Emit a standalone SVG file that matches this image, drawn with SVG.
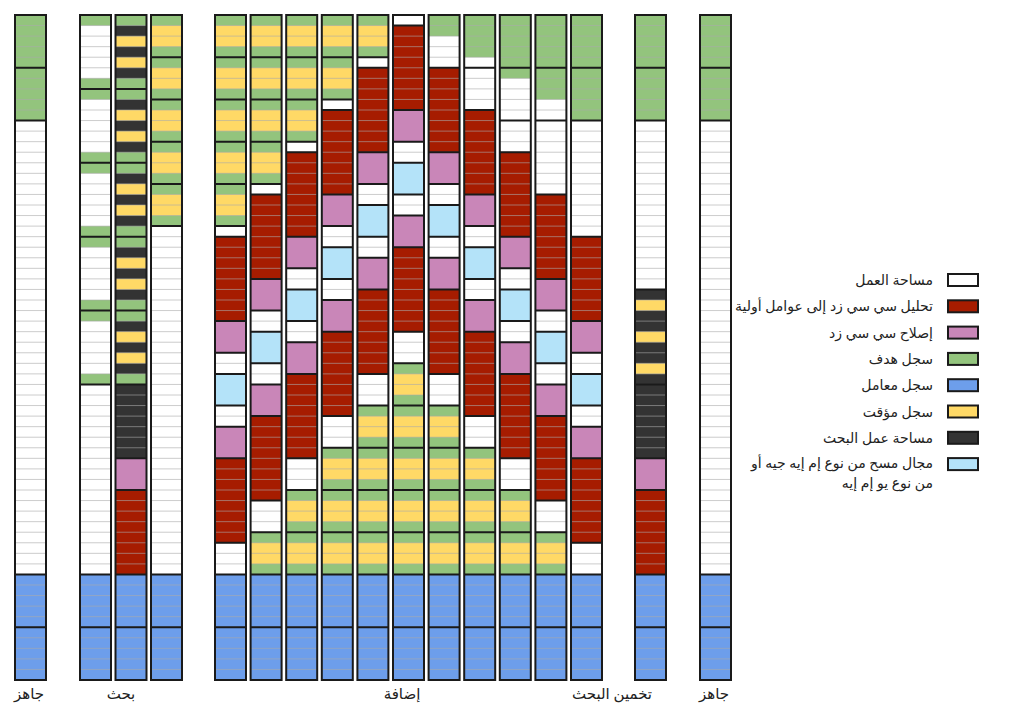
<svg xmlns="http://www.w3.org/2000/svg" xmlns:xlink="http://www.w3.org/1999/xlink" width="1024" height="710" viewBox="0 0 1024 710">
<style>
.w{fill:#fff}.r{fill:#a61c00}.p{fill:#c986b8}.g{fill:#93c47d}.b{fill:#6d9eeb}.y{fill:#ffd966}.d{fill:#333}.l{fill:#b4e3f9}
.o{fill:none;stroke:#1a1a1a;stroke-width:2;vector-effect:non-scaling-stroke}
.gr{fill:none;stroke:#aaa;stroke-opacity:.6;stroke-width:1;vector-effect:non-scaling-stroke}
.lg{stroke:#1a1a1a;stroke-width:2}
text{font-family:"Noto Sans","DejaVu Sans",sans-serif;font-size:14px;fill:#222}
.bt{font-size:15px}
</style>
<defs>
<path id="grid" class="gr" d="M0 1h31M0 2h31M0 3h31M0 4h31M0 5h31M0 6h31M0 7h31M0 8h31M0 9h31M0 10h31M0 11h31M0 12h31M0 13h31M0 14h31M0 15h31M0 16h31M0 17h31M0 18h31M0 19h31M0 20h31M0 21h31M0 22h31M0 23h31M0 24h31M0 25h31M0 26h31M0 27h31M0 28h31M0 29h31M0 30h31M0 31h31M0 32h31M0 33h31M0 34h31M0 35h31M0 36h31M0 37h31M0 38h31M0 39h31M0 40h31M0 41h31M0 42h31M0 43h31M0 44h31M0 45h31M0 46h31M0 47h31M0 48h31M0 49h31M0 50h31M0 51h31M0 52h31M0 53h31M0 54h31M0 55h31M0 56h31M0 57h31M0 58h31M0 59h31M0 60h31M0 61h31M0 62h31"/>
<g id="gyg"><rect class="g" width="31" height="4"/><rect class="y" y="1" width="31" height="2"/></g>
<g id="gwg"><rect class="g" width="31" height="7"/><rect class="w" y="1" width="31" height="5"/></g>
<g id="gdy"><rect class="g" width="31" height="7"/><rect class="d" y="1" width="31" height="5"/><rect class="y" y="2" width="31" height="1"/><rect class="y" y="4" width="31" height="1"/></g>
<rect id="bl" class="b" y="53" width="31" height="10"/>
<rect id="bg" class="w" width="31" height="63"/>
<rect id="ol" class="o" width="31" height="63"/>
</defs>

<g id="col-ready-1" transform="translate(15 15) scale(1 10.5556)">
<use href="#bg"/><rect class="g" width="31" height="10"/><use href="#bl"/><use href="#grid"/>
<use href="#ol"/><path class="o" d="M0 5h31M0 10h31M0 53h31M0 58h31"/>
</g>

<g id="col-search-1" transform="translate(80 15) scale(1 10.5556)">
<use href="#bg"/><use href="#gwg"/><use href="#gwg" y="7"/><use href="#gwg" y="14"/><use href="#gwg" y="21"/><use href="#gwg" y="28"/><use href="#bl"/><use href="#grid"/>
<use href="#ol"/><path class="o" d="M0 7h31M0 14h31M0 21h31M0 28h31M0 35h31M0 53h31M0 58h31"/>
</g>

<g id="col-search-2" transform="translate(115.5 15) scale(1 10.5556)">
<use href="#bg"/><use href="#gdy"/><use href="#gdy" y="7"/><use href="#gdy" y="14"/><use href="#gdy" y="21"/><use href="#gdy" y="28"/>
<rect class="d" y="35" width="31" height="7"/><rect class="r" y="45" width="31" height="8"/><use href="#bl"/><use href="#grid"/>
<rect class="p" y="42" width="31" height="3"/>
<use href="#ol"/><path class="o" d="M0 7h31M0 14h31M0 21h31M0 28h31M0 35h31M0 42h31M0 45h31M0 53h31M0 58h31"/>
</g>

<g id="col-search-3" transform="translate(151 15) scale(1 10.5556)">
<use href="#bg"/><use href="#gyg"/><use href="#gyg" y="4"/><use href="#gyg" y="8"/><use href="#gyg" y="12"/><use href="#gyg" y="16"/><use href="#bl"/><use href="#grid"/>
<use href="#ol"/><path class="o" d="M0 4h31M0 8h31M0 12h31M0 16h31M0 20h31M0 53h31M0 58h31"/>
</g>

<g id="col-add-1" transform="translate(215 15) scale(1 10.5556)">
<use href="#bg"/><use href="#gyg"/><use href="#gyg" y="4"/><use href="#gyg" y="8"/><use href="#gyg" y="12"/><use href="#gyg" y="16"/>
<rect class="r" y="21" width="31" height="8"/><rect class="r" y="42" width="31" height="8"/><use href="#bl"/><use href="#grid"/>
<rect class="p" y="29" width="31" height="3"/><rect class="l" y="34" width="31" height="3"/><rect class="p" y="39" width="31" height="3"/>
<use href="#ol"/><path class="o" d="M0 4h31M0 8h31M0 12h31M0 16h31M0 20h31M0 21h31M0 29h31M0 32h31M0 34h31M0 37h31M0 39h31M0 42h31M0 50h31M0 53h31M0 58h31"/>
</g>

<g id="col-add-2" transform="translate(250.6 15) scale(1 10.5556)">
<use href="#bg"/><use href="#gyg"/><use href="#gyg" y="4"/><use href="#gyg" y="8"/><use href="#gyg" y="12"/>
<rect class="r" y="17" width="31" height="8"/><rect class="r" y="38" width="31" height="8"/><use href="#gyg" y="49"/><use href="#bl"/><use href="#grid"/>
<rect class="p" y="25" width="31" height="3"/><rect class="l" y="30" width="31" height="3"/><rect class="p" y="35" width="31" height="3"/>
<use href="#ol"/><path class="o" d="M0 4h31M0 8h31M0 12h31M0 16h31M0 17h31M0 25h31M0 28h31M0 30h31M0 33h31M0 35h31M0 38h31M0 46h31M0 49h31M0 53h31M0 58h31"/>
</g>

<g id="col-add-3" transform="translate(286.2 15) scale(1 10.5556)">
<use href="#bg"/><use href="#gyg"/><use href="#gyg" y="4"/><use href="#gyg" y="8"/>
<rect class="r" y="13" width="31" height="8"/><rect class="r" y="34" width="31" height="8"/><use href="#gyg" y="45"/><use href="#gyg" y="49"/><use href="#bl"/><use href="#grid"/>
<rect class="p" y="21" width="31" height="3"/><rect class="l" y="26" width="31" height="3"/><rect class="p" y="31" width="31" height="3"/>
<use href="#ol"/><path class="o" d="M0 4h31M0 8h31M0 12h31M0 13h31M0 21h31M0 24h31M0 26h31M0 29h31M0 31h31M0 34h31M0 42h31M0 45h31M0 49h31M0 53h31M0 58h31"/>
</g>

<g id="col-add-4" transform="translate(321.8 15) scale(1 10.5556)">
<use href="#bg"/><use href="#gyg"/><use href="#gyg" y="4"/>
<rect class="r" y="9" width="31" height="8"/><rect class="r" y="30" width="31" height="8"/><use href="#gyg" y="41"/><use href="#gyg" y="45"/><use href="#gyg" y="49"/><use href="#bl"/><use href="#grid"/>
<rect class="p" y="17" width="31" height="3"/><rect class="l" y="22" width="31" height="3"/><rect class="p" y="27" width="31" height="3"/>
<use href="#ol"/><path class="o" d="M0 4h31M0 8h31M0 9h31M0 17h31M0 20h31M0 22h31M0 25h31M0 27h31M0 30h31M0 38h31M0 41h31M0 45h31M0 49h31M0 53h31M0 58h31"/>
</g>

<g id="col-add-5" transform="translate(357.4 15) scale(1 10.5556)">
<use href="#bg"/><use href="#gyg"/>
<rect class="r" y="5" width="31" height="8"/><rect class="r" y="26" width="31" height="8"/><use href="#gyg" y="37"/><use href="#gyg" y="41"/><use href="#gyg" y="45"/><use href="#gyg" y="49"/><use href="#bl"/><use href="#grid"/>
<rect class="p" y="13" width="31" height="3"/><rect class="l" y="18" width="31" height="3"/><rect class="p" y="23" width="31" height="3"/>
<use href="#ol"/><path class="o" d="M0 4h31M0 5h31M0 13h31M0 16h31M0 18h31M0 21h31M0 23h31M0 26h31M0 34h31M0 37h31M0 41h31M0 45h31M0 49h31M0 53h31M0 58h31"/>
</g>

<g id="col-add-6" transform="translate(393 15) scale(1 10.5556)">
<use href="#bg"/>
<rect class="r" y="1" width="31" height="8"/><rect class="r" y="22" width="31" height="8"/><use href="#gyg" y="33"/><use href="#gyg" y="37"/><use href="#gyg" y="41"/><use href="#gyg" y="45"/><use href="#gyg" y="49"/><use href="#bl"/><use href="#grid"/>
<rect class="p" y="9" width="31" height="3"/><rect class="l" y="14" width="31" height="3"/><rect class="p" y="19" width="31" height="3"/>
<use href="#ol"/><path class="o" d="M0 1h31M0 9h31M0 12h31M0 14h31M0 17h31M0 19h31M0 22h31M0 30h31M0 33h31M0 37h31M0 41h31M0 45h31M0 49h31M0 53h31M0 58h31"/>
</g>

<g id="col-add-7" transform="translate(428.6 15) scale(1 10.5556)">
<use href="#bg"/><rect class="g" width="31" height="2"/>
<rect class="r" y="5" width="31" height="8"/><rect class="r" y="26" width="31" height="8"/><use href="#gyg" y="37"/><use href="#gyg" y="41"/><use href="#gyg" y="45"/><use href="#gyg" y="49"/><use href="#bl"/><use href="#grid"/>
<rect class="p" y="13" width="31" height="3"/><rect class="l" y="18" width="31" height="3"/><rect class="p" y="23" width="31" height="3"/>
<use href="#ol"/><path class="o" d="M0 5h31M0 13h31M0 16h31M0 18h31M0 21h31M0 23h31M0 26h31M0 34h31M0 37h31M0 41h31M0 45h31M0 49h31M0 53h31M0 58h31"/>
</g>

<g id="col-add-8" transform="translate(464.2 15) scale(1 10.5556)">
<use href="#bg"/><rect class="g" width="31" height="4"/>
<rect class="r" y="9" width="31" height="8"/><rect class="r" y="30" width="31" height="8"/><use href="#gyg" y="41"/><use href="#gyg" y="45"/><use href="#gyg" y="49"/><use href="#bl"/><use href="#grid"/>
<rect class="p" y="17" width="31" height="3"/><rect class="l" y="22" width="31" height="3"/><rect class="p" y="27" width="31" height="3"/>
<use href="#ol"/><path class="o" d="M0 5h31M0 9h31M0 17h31M0 20h31M0 22h31M0 25h31M0 27h31M0 30h31M0 38h31M0 41h31M0 45h31M0 49h31M0 53h31M0 58h31"/>
</g>

<g id="col-add-9" transform="translate(499.8 15) scale(1 10.5556)">
<use href="#bg"/><rect class="g" width="31" height="6"/>
<rect class="r" y="13" width="31" height="8"/><rect class="r" y="34" width="31" height="8"/><use href="#gyg" y="45"/><use href="#gyg" y="49"/><use href="#bl"/><use href="#grid"/>
<rect class="p" y="21" width="31" height="3"/><rect class="l" y="26" width="31" height="3"/><rect class="p" y="31" width="31" height="3"/>
<use href="#ol"/><path class="o" d="M0 5h31M0 10h31M0 13h31M0 21h31M0 24h31M0 26h31M0 29h31M0 31h31M0 34h31M0 42h31M0 45h31M0 49h31M0 53h31M0 58h31"/>
</g>

<g id="col-add-10" transform="translate(535.4 15) scale(1 10.5556)">
<use href="#bg"/><rect class="g" width="31" height="8"/>
<rect class="r" y="17" width="31" height="8"/><rect class="r" y="38" width="31" height="8"/><use href="#gyg" y="49"/><use href="#bl"/><use href="#grid"/>
<rect class="p" y="25" width="31" height="3"/><rect class="l" y="30" width="31" height="3"/><rect class="p" y="35" width="31" height="3"/>
<use href="#ol"/><path class="o" d="M0 5h31M0 10h31M0 17h31M0 25h31M0 28h31M0 30h31M0 33h31M0 35h31M0 38h31M0 46h31M0 49h31M0 53h31M0 58h31"/>
</g>

<g id="col-add-11" transform="translate(571 15) scale(1 10.5556)">
<use href="#bg"/><rect class="g" width="31" height="10"/>
<rect class="r" y="21" width="31" height="8"/><rect class="r" y="42" width="31" height="8"/><use href="#bl"/><use href="#grid"/>
<rect class="p" y="29" width="31" height="3"/><rect class="l" y="34" width="31" height="3"/><rect class="p" y="39" width="31" height="3"/>
<use href="#ol"/><path class="o" d="M0 5h31M0 10h31M0 21h31M0 29h31M0 32h31M0 34h31M0 37h31M0 39h31M0 42h31M0 50h31M0 53h31M0 58h31"/>
</g>

<g id="col-guess" transform="translate(635 15) scale(1 10.5556)">
<use href="#bg"/><rect class="g" width="31" height="10"/>
<rect class="d" y="26" width="31" height="16"/><rect class="y" y="27" width="31" height="1"/><rect class="y" y="30" width="31" height="1"/><rect class="y" y="33" width="31" height="1"/>
<rect class="r" y="45" width="31" height="8"/><use href="#bl"/><use href="#grid"/>
<rect class="p" y="42" width="31" height="3"/>
<use href="#ol"/><path class="o" d="M0 5h31M0 10h31M0 26h31M0 35h31M0 42h31M0 45h31M0 53h31M0 58h31"/>
</g>

<g id="col-ready-2" transform="translate(700 15) scale(1 10.5556)">
<use href="#bg"/><rect class="g" width="31" height="10"/><use href="#bl"/><use href="#grid"/>
<use href="#ol"/><path class="o" d="M0 5h31M0 10h31M0 53h31M0 58h31"/>
</g>

<g id="labels" text-anchor="middle">
<text class="bt" x="29" y="699">جاهز</text>
<text class="bt" x="121" y="699">بحث</text>
<text class="bt" x="402" y="699">إضافة</text>
<text class="bt" x="612" y="699">تخمين البحث</text>
<text class="bt" x="714" y="699">جاهز</text>
</g>

<g id="legend">
<g id="lg-workspace"><rect class="w lg" x="948" y="274" width="30" height="12"/><text x="933" y="285" text-anchor="end">مساحة العمل</text></g>
<g id="lg-factor"><rect class="r lg" x="948" y="300.3" width="30" height="12"/><text x="933" y="311.3" text-anchor="end">تحليل سي سي زد إلى عوامل أولية</text></g>
<g id="lg-fix"><rect class="p lg" x="948" y="326.6" width="30" height="12"/><text x="933" y="337.6" text-anchor="end">إصلاح سي سي زد</text></g>
<g id="lg-target"><rect class="g lg" x="948" y="352.9" width="30" height="12"/><text x="933" y="363.9" text-anchor="end">سجل هدف</text></g>
<g id="lg-param"><rect class="b lg" x="948" y="379.2" width="30" height="12"/><text x="933" y="390.2" text-anchor="end">سجل معامل</text></g>
<g id="lg-temp"><rect class="y lg" x="948" y="405.5" width="30" height="12"/><text x="933" y="416.5" text-anchor="end">سجل مؤقت</text></g>
<g id="lg-search"><rect class="d lg" x="948" y="431.8" width="30" height="12"/><text x="933" y="442.8" text-anchor="end">مساحة عمل البحث</text></g>
<g id="lg-scan"><rect class="l lg" x="948" y="458.1" width="30" height="12"/><text x="933" y="468" text-anchor="end">مجال مسح من نوع إم إيه جيه أو</text><text x="933" y="488" text-anchor="end">من نوع يو إم إيه</text></g>
</g>
</svg>
